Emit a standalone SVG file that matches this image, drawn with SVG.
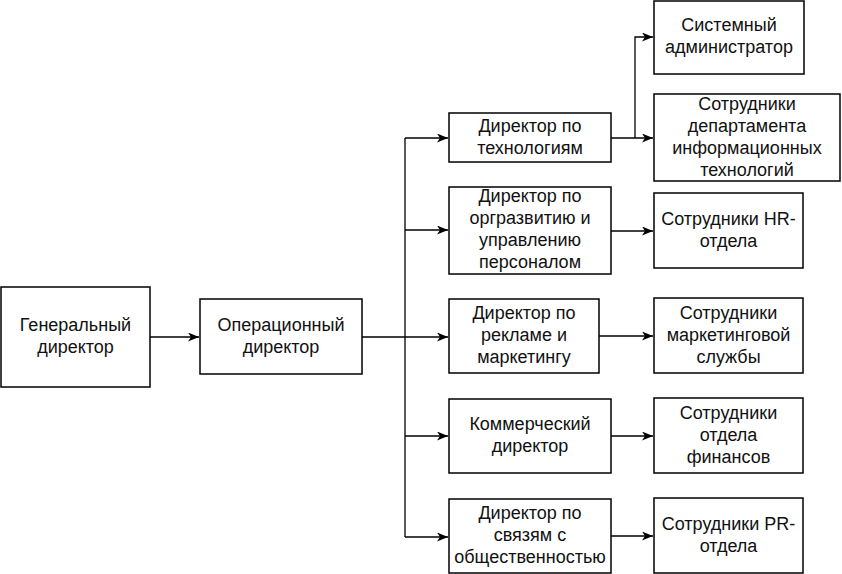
<svg xmlns="http://www.w3.org/2000/svg" width="842" height="574" viewBox="0 0 842 574">
<style>
.box{fill:#fff;stroke:#000;stroke-width:1.5}
.t{font-family:"Liberation Sans",Arial,sans-serif;font-size:18px;fill:#111;text-anchor:middle}
.c{fill:none;stroke:#000;stroke-width:1.3}
</style>
<defs>
<marker id="arr" markerUnits="userSpaceOnUse" markerWidth="12" markerHeight="10" refX="11" refY="4.5" orient="auto">
<path d="M0,0 L11,4.5 L0,9 L3,4.5 z" fill="#000"/>
</marker>
</defs>
<rect width="842" height="574" fill="#fff"/>
<g id="connectors">
<path class="c" d="M150,337 H199" marker-end="url(#arr)"/>
<path class="c" d="M362,337 H405 M405,138 V537"/>
<path class="c" d="M405,138 H448" marker-end="url(#arr)"/>
<path class="c" d="M405,230 H448" marker-end="url(#arr)"/>
<path class="c" d="M405,337 H448" marker-end="url(#arr)"/>
<path class="c" d="M405,436 H448" marker-end="url(#arr)"/>
<path class="c" d="M405,537 H448" marker-end="url(#arr)"/>
<path class="c" d="M611,138 H653" marker-end="url(#arr)"/>
<path class="c" d="M635,138 V37 H653" marker-end="url(#arr)"/>
<path class="c" d="M611,231 H653" marker-end="url(#arr)"/>
<path class="c" d="M599,336 H653" marker-end="url(#arr)"/>
<path class="c" d="M611,436 H653" marker-end="url(#arr)"/>
<path class="c" d="M611,536 H653" marker-end="url(#arr)"/>
</g>
<g id="gen">
<rect class="box" x="1" y="287" width="149" height="100"/>
<text class="t" x="75.5" y="331">Генеральный</text>
<text class="t" x="75.5" y="353">директор</text>
</g>
<g id="oper">
<rect class="box" x="200" y="299" width="162" height="75"/>
<text class="t" x="281" y="331">Операционный</text>
<text class="t" x="281" y="353">директор</text>
</g>
<g id="tech">
<rect class="box" x="449" y="113" width="162" height="49"/>
<text class="t" x="530" y="132">Директор по</text>
<text class="t" x="530" y="154">технологиям</text>
</g>
<g id="hrdir">
<rect class="box" x="449" y="187" width="162" height="87"/>
<text class="t" x="530" y="202">Директор по</text>
<text class="t" x="530" y="224">оргразвитию и</text>
<text class="t" x="530" y="246">управлению</text>
<text class="t" x="530" y="268">персоналом</text>
</g>
<g id="mkdir">
<rect class="box" x="449" y="299" width="150" height="74"/>
<text class="t" x="524" y="319">Директор по</text>
<text class="t" x="524" y="341">рекламе и</text>
<text class="t" x="524" y="363">маркетингу</text>
</g>
<g id="comdir">
<rect class="box" x="449" y="399" width="162" height="74"/>
<text class="t" x="530" y="430">Коммерческий</text>
<text class="t" x="530" y="452">директор</text>
</g>
<g id="prdir">
<rect class="box" x="449" y="499" width="162" height="74"/>
<text class="t" x="530" y="519">Директор по</text>
<text class="t" x="530" y="541">связям с</text>
<text class="t" x="530" y="563">общественностью</text>
</g>
<g id="sysadm">
<rect class="box" x="654" y="1" width="150" height="73"/>
<text class="t" x="729" y="31">Системный</text>
<text class="t" x="729" y="53">администратор</text>
</g>
<g id="itdept">
<rect class="box" x="654" y="94" width="186" height="87"/>
<text class="t" x="747" y="110">Сотрудники</text>
<text class="t" x="747" y="132">департамента</text>
<text class="t" x="747" y="154">информационных</text>
<text class="t" x="747" y="176">технологий</text>
</g>
<g id="hr">
<rect class="box" x="654" y="193" width="149" height="75"/>
<text class="t" x="728.5" y="225">Сотрудники HR-</text>
<text class="t" x="728.5" y="247">отдела</text>
</g>
<g id="mk">
<rect class="box" x="654" y="298" width="149" height="75"/>
<text class="t" x="728.5" y="319">Сотрудники</text>
<text class="t" x="728.5" y="341">маркетинговой</text>
<text class="t" x="728.5" y="363">службы</text>
</g>
<g id="fin">
<rect class="box" x="654" y="398" width="149" height="75"/>
<text class="t" x="728.5" y="419">Сотрудники</text>
<text class="t" x="728.5" y="441">отдела</text>
<text class="t" x="728.5" y="463">финансов</text>
</g>
<g id="pr">
<rect class="box" x="654" y="498" width="149" height="75"/>
<text class="t" x="728.5" y="530">Сотрудники PR-</text>
<text class="t" x="728.5" y="552">отдела</text>
</g>
</svg>
